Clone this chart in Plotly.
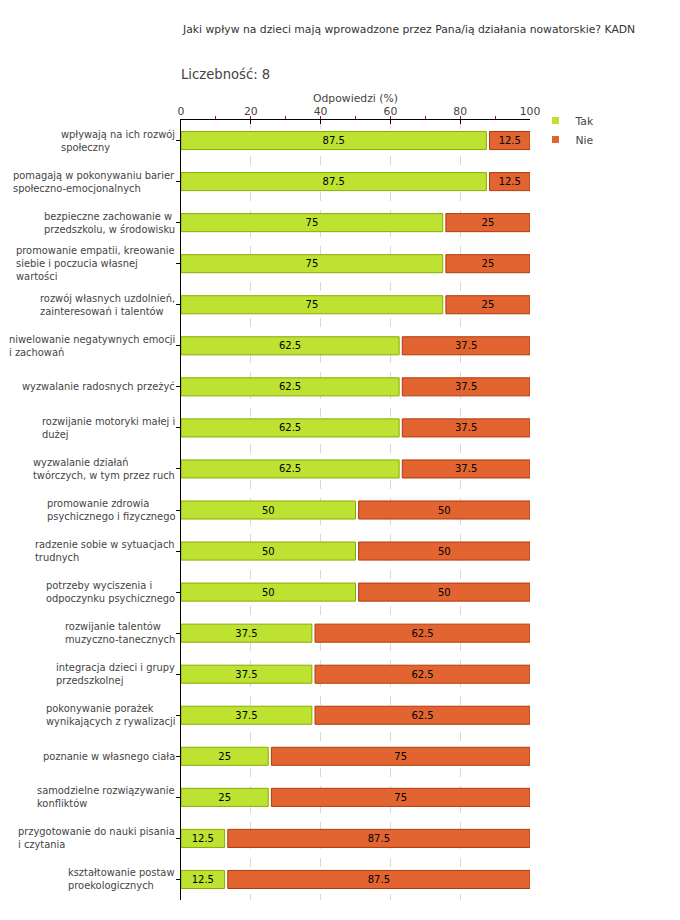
import plotly.graph_objects as go

categories = [
    "wpływają na ich rozwój<br>społeczny",
    "pomagają w pokonywaniu barier<br>społeczno-emocjonalnych",
    "bezpieczne zachowanie w<br>przedszkolu, w środowisku",
    "promowanie empatii, kreowanie<br>siebie i poczucia własnej<br>wartości",
    "rozwój własnych uzdolnień,<br>zainteresowań i talentów",
    "niwelowanie negatywnych emocji<br>i zachowań",
    "wyzwalanie radosnych przeżyć",
    "rozwijanie motoryki małej i<br>dużej",
    "wyzwalanie działań<br>twórczych, w tym przez ruch",
    "promowanie zdrowia<br>psychicznego i fizycznego",
    "radzenie sobie w sytuacjach<br>trudnych",
    "potrzeby wyciszenia i<br>odpoczynku psychicznego",
    "rozwijanie talentów<br>muzyczno-tanecznych",
    "integracja dzieci i grupy<br>przedszkolnej",
    "pokonywanie porażek<br>wynikających z rywalizacji",
    "poznanie w własnego ciała",
    "samodzielne rozwiązywanie<br>konfliktów",
    "przygotowanie do nauki pisania<br>i czytania",
    "kształtowanie postaw<br>proekologicznych",
]
tak = [87.5, 87.5, 75, 75, 75, 62.5, 62.5, 62.5, 62.5, 50, 50, 50, 37.5, 37.5, 37.5, 25, 25, 12.5, 12.5]
nie = [12.5, 12.5, 25, 25, 25, 37.5, 37.5, 37.5, 37.5, 50, 50, 50, 62.5, 62.5, 62.5, 75, 75, 87.5, 87.5]
series_names = ["Tak", "Nie"]
x_ticks = [0, 20, 40, 60, 80, 100]

title_text = "Jaki wpływ na dzieci mają wprowadzone przez Pana/ią działania nowatorskie? KADN"
count_text = "Liczebność: 8"
axis_title = "Odpowiedzi (%)"

FONT = "DejaVu Sans, Verdana, sans-serif"
FS = 10.8
FS_LABEL = 9.9
GREEN, GREEN_LINE = "#bde232", "#8aac00"
ORANGE, ORANGE_LINE = "#e26531", "#b13a0b"
GAP = 0.9

OFF = 8  # page body margin
W, H = 680, 920
# plot area in page pixels
PL, PR, PT, PB = 181, 530.5, 120, 900
L, T = PL - OFF, PT - OFF
R = W - (PR - OFF)
B = H - (PB - OFF)
PW, PH = PR - PL, PB - PT


def py(p):
    return (PB - p) / PH


def px(p):
    return (p - PL) / PW


fmt = lambda v: f"{v:g}"

fig = go.Figure()
fig.add_trace(go.Bar(
    y=categories, x=tak, base=[0] * len(tak), orientation="h", width=0.44,
    marker=dict(color=GREEN, line=dict(color=GREEN_LINE, width=1)),
    text=[fmt(v) for v in tak], textposition="inside", insidetextanchor="middle",
    textangle=0, textfont=dict(family=FONT, size=10, color="#000"),
    showlegend=False, hoverinfo="skip", cliponaxis=False,
))
fig.add_trace(go.Bar(
    y=categories, x=[v - GAP for v in nie], base=[t + GAP for t in tak], orientation="h", width=0.44,
    marker=dict(color=ORANGE, line=dict(color=ORANGE_LINE, width=1)),
    text=[fmt(v) for v in nie], textposition="inside", insidetextanchor="middle",
    textangle=0, textfont=dict(family=FONT, size=10, color="#000"),
    showlegend=False, hoverinfo="skip", cliponaxis=False,
))
for name, col in [(series_names[0], GREEN), (series_names[1], ORANGE)]:
    fig.add_trace(go.Scatter(
        x=[None], y=[None], mode="markers", name=name,
        marker=dict(symbol="square", size=7, color=col, line=dict(color="#cccccc", width=0)),
    ))

annotations = []
for c in categories:
    annotations.append(dict(
        x=0, y=c, xref="x", yref="y", text=c, showarrow=False,
        xanchor="right", yanchor="middle", align="left", xshift=-4,
        font=dict(family=FONT, size=FS_LABEL, color="#444"),
    ))
annotations += [
    dict(x=px(180), y=py(30), xref="paper", yref="paper", text=title_text, showarrow=False,
         xanchor="left", yanchor="middle", font=dict(family=FONT, size=FS, color="#333")),
    dict(x=px(179), y=py(75), xref="paper", yref="paper", text=count_text, showarrow=False,
         xanchor="left", yanchor="middle", font=dict(family=FONT, size=13.2, color="#444")),
    dict(x=0.5, y=py(98), xref="paper", yref="paper", text=axis_title, showarrow=False,
         xanchor="center", yanchor="middle", font=dict(family=FONT, size=FS, color="#444")),
]

fig.update_layout(
    width=W, height=H, margin=dict(l=L, r=R, t=T, b=B, autoexpand=False),
    plot_bgcolor="white", paper_bgcolor="white",
    barmode="overlay",
    font=dict(family=FONT, size=FS, color="#444"),
    annotations=annotations,
    uniformtext=dict(minsize=10, mode="show"),
    legend=dict(x=px(536), y=py(106), xanchor="left", yanchor="top",
                font=dict(family=FONT, size=FS, color="#444"),
                bgcolor="rgba(0,0,0,0)", itemwidth=30, tracegroupgap=0),
    xaxis=dict(
        side="top", range=[0, 100], tickvals=x_ticks, ticktext=[str(v) for v in x_ticks],
        showgrid=True, gridcolor="#d8d8d8", griddash="dash", gridwidth=1,
        showline=True, linecolor="#000", linewidth=1,
        ticks="inside", ticklen=4, tickcolor="#000",
        minor=dict(dtick=10, ticks="outside", ticklen=3, tickcolor="#d00000", showgrid=False),
        tickfont=dict(family=FONT, size=FS, color="#444"), zeroline=False, fixedrange=True,
    ),
    yaxis=dict(
        autorange="reversed", showticklabels=False, showgrid=False,
        showline=True, linecolor="#000", linewidth=1,
        ticks="outside", ticklen=4, tickcolor="#000", fixedrange=True,
    ),
)

fig.write_html("out.html")
